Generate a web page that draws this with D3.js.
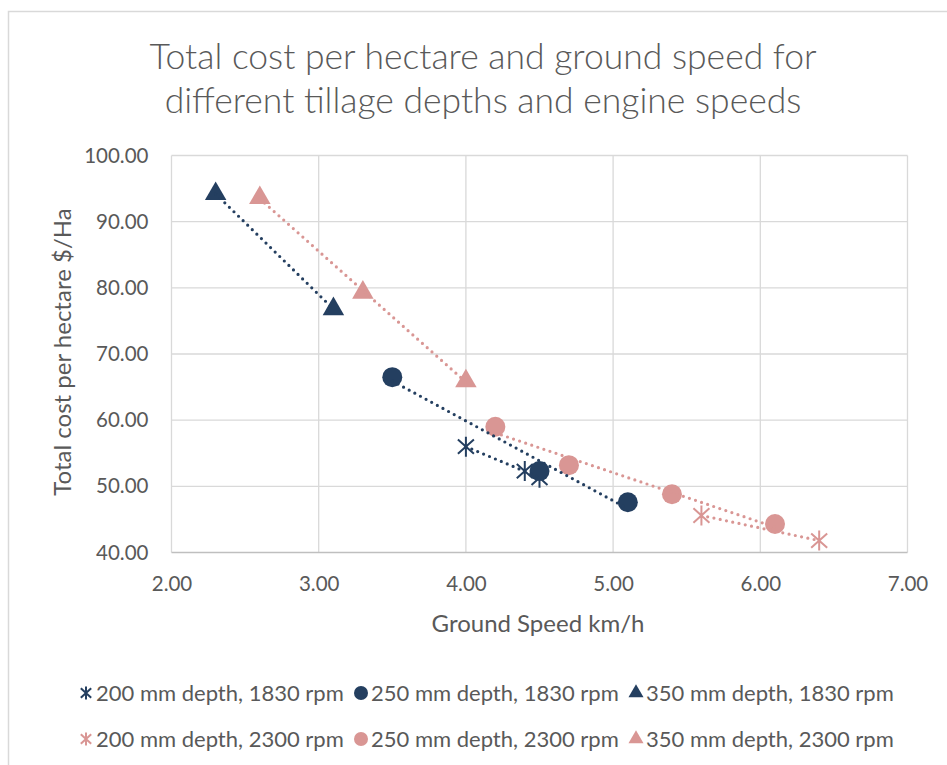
<!DOCTYPE html>
<html>
<head>
<meta charset="utf-8">
<script src="https://cdn.jsdelivr.net/npm/d3@7"></script>
<style>
  html, body { margin: 0; padding: 0; background: #fff; }
  svg { display: block; font-family: Lato, "Open Sans", sans-serif; }
</style>
</head>
<body>
<svg id="chart" width="947" height="765"></svg>
<script>
// Ground speed (km/h) and total cost ($/Ha) for each tillage depth / engine speed
const speed200_1830 = [4.0, 4.4, 4.5];
const cost200_1830  = [56.0, 52.3, 51.3];
const speed250_1830 = [3.5, 4.5, 5.1];
const cost250_1830  = [66.5, 52.3, 47.6];
const speed350_1830 = [2.3, 3.1];
const cost350_1830  = [94.2, 76.8];
const speed200_2300 = [5.6, 6.4];
const cost200_2300  = [45.6, 41.8];
const speed250_2300 = [4.2, 4.7, 5.4, 6.1];
const cost250_2300  = [59.0, 53.2, 48.8, 44.3];
const speed350_2300 = [2.6, 3.3, 4.0];
const cost350_2300  = [93.6, 79.3, 65.9];

const seriesNames = [
  "200 mm depth, 1830 rpm", "250 mm depth, 1830 rpm", "350 mm depth, 1830 rpm",
  "200 mm depth, 2300 rpm", "250 mm depth, 2300 rpm", "350 mm depth, 2300 rpm"
];
const xTicks = [2, 3, 4, 5, 6, 7];
const yTicks = [40, 50, 60, 70, 80, 90, 100];

const NAVY = "#243F60", PINK = "#D99694", TEXT = "#595959", GRID = "#D9D9D9";

const series = [
  { name: seriesNames[0], xs: speed200_1830, ys: cost200_1830, shape: "star",     color: NAVY },
  { name: seriesNames[1], xs: speed250_1830, ys: cost250_1830, shape: "circle",   color: NAVY },
  { name: seriesNames[2], xs: speed350_1830, ys: cost350_1830, shape: "triangle", color: NAVY },
  { name: seriesNames[3], xs: speed200_2300, ys: cost200_2300, shape: "star",     color: PINK },
  { name: seriesNames[4], xs: speed250_2300, ys: cost250_2300, shape: "circle",   color: PINK },
  { name: seriesNames[5], xs: speed350_2300, ys: cost350_2300, shape: "triangle", color: PINK }
];

const svg = d3.select("#chart");
const W = 947, H = 765;
const plot = { left: 171.5, top: 155.5, right: 907.5, bottom: 552.5 };

// chart frame (runs off the right and bottom edges)
svg.append("rect").attr("x", 8.5).attr("y", 11.5).attr("width", W).attr("height", H)
  .attr("fill", "#fff").attr("stroke", GRID).attr("stroke-width", 1.5);

const x = d3.scaleLinear().domain([2, 7]).range([plot.left, plot.right]);
const y = d3.scaleLinear().domain([40, 100]).range([plot.bottom, plot.top]);

// gridlines
const grid = svg.append("g");
grid.selectAll("line.h").data(yTicks.slice(1)).join("line")
  .attr("x1", plot.left).attr("x2", plot.right)
  .attr("y1", d => y(d)).attr("y2", d => y(d))
  .attr("stroke", GRID).attr("stroke-width", 1.3);
grid.selectAll("line.v").data(xTicks).join("line")
  .attr("y1", plot.top).attr("y2", plot.bottom)
  .attr("x1", d => x(d)).attr("x2", d => x(d))
  .attr("stroke", GRID).attr("stroke-width", 1.3);
grid.append("line").attr("x1", plot.left).attr("x2", plot.right)
  .attr("y1", plot.bottom).attr("y2", plot.bottom)
  .attr("stroke", "#BFBFBF").attr("stroke-width", 1.3);

// axes (labels only)
const xAxis = svg.append("g").attr("transform", `translate(0,${plot.bottom})`)
  .call(d3.axisBottom(x).tickValues(xTicks).tickFormat(d3.format(".2f")).tickSize(0).tickPadding(24));
const yAxis = svg.append("g").attr("transform", `translate(${plot.left},0)`)
  .call(d3.axisLeft(y).tickValues(yTicks).tickFormat(d3.format(".2f")).tickSize(0).tickPadding(23));
[xAxis, yAxis].forEach(a => {
  a.select(".domain").remove();
  a.selectAll("text").attr("fill", TEXT).style("font-size", "20.5px").style("font-family", "Lato");
});

// axis titles
svg.append("text").attr("x", 538).attr("y", 632).attr("text-anchor", "middle")
  .attr("fill", TEXT).style("font-size", "24px").text("Ground Speed km/h");
svg.append("text").attr("transform", "translate(71,352) rotate(-90)").attr("text-anchor", "middle")
  .attr("fill", TEXT).style("font-size", "24px").text("Total cost per hectare $/Ha");

// title
const title = svg.append("text").attr("text-anchor", "middle").attr("fill", TEXT)
  .style("font-size", "35.5px").style("font-weight", 300);
title.append("tspan").attr("x", 483).attr("y", 69).text("Total cost per hectare and ground speed for");
title.append("tspan").attr("x", 483).attr("y", 113).text("different tillage depths and engine speeds");

// marker drawing
function drawMarker(g, shape, color, size) {
  if (shape === "circle") {
    g.append("circle").attr("r", size / 2).attr("fill", color);
  } else if (shape === "triangle") {
    g.append("path").attr("d", d3.symbol(d3.symbolTriangle, size * size * 0.5)()).attr("fill", color);
  } else {
    const r = size / 2, d = r * 0.8;
    g.append("path")
      .attr("d", `M0,${-r}V${r}M${-d},${-d * 0.9}L${d},${d * 0.9}M${-d},${d * 0.9}L${d},${-d * 0.9}`)
      .attr("stroke", color).attr("stroke-width", 2).attr("fill", "none");
  }
}

// least-squares linear trendline for each series
function linearFit(xs, ys) {
  const mx = d3.mean(xs), my = d3.mean(ys);
  const b = d3.sum(xs, (v, i) => (v - mx) * (ys[i] - my)) / d3.sum(xs, v => (v - mx) ** 2);
  return v => my + b * (v - mx);
}

const markers = svg.append("g");
series.forEach(s => {
  s.xs.forEach((v, i) => {
    const g = markers.append("g").attr("transform", `translate(${x(v)},${y(s.ys[i])})`);
    drawMarker(g, s.shape, s.color, 20);
  });
});

const trend = svg.append("g");
series.forEach(s => {
  const f = linearFit(s.xs, s.ys);
  const ends = d3.extent(s.xs);
  trend.append("path")
    .attr("d", d3.line().x(v => x(v)).y(v => y(f(v)))(ends))
    .attr("fill", "none").attr("stroke", s.color).attr("stroke-width", 3.2)
    .attr("stroke-linecap", "round").attr("stroke-dasharray", "0 6.4");
});

// legend: two rows of three entries
const legend = svg.append("g").style("font-size", "22px");
const colX = [86, 361, 636];
const rowY = [693, 739];
series.forEach((s, i) => {
  const cx = colX[i % 3], cy = rowY[Math.floor(i / 3)];
  const g = legend.append("g").attr("transform", `translate(${cx},${cy})`);
  drawMarker(g, s.shape, s.color, s.shape === "star" ? 13 : 14);
  g.append("text").attr("x", 10).attr("y", 8).attr("fill", TEXT).text(s.name);
});
</script>
</body>
</html>
